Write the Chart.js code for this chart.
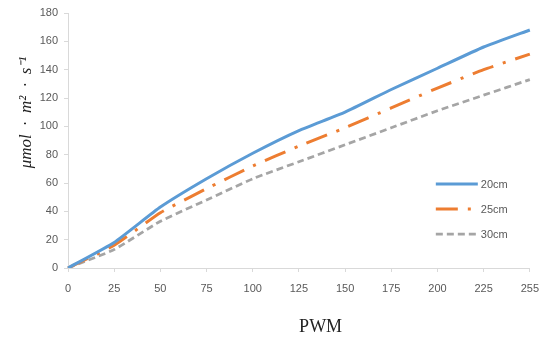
<!DOCTYPE html>
<html>
<head>
<meta charset="utf-8">
<script src="https://cdn.jsdelivr.net/npm/chart.js@4/dist/chart.umd.min.js"></script>
<style>
  html, body { margin: 0; padding: 0; background: #ffffff; }
  #wrap { width: 549px; height: 341px; position: relative; }
</style>
</head>
<body>
<div id="wrap"><canvas id="c" width="549" height="341"></canvas></div>
<script>
// PWM duty levels (category labels on the x axis)
const pwmLabels = ['0', '25', '50', '75', '100', '125', '150', '175', '200', '225', '255'];

// Photon flux density at each distance, μmol·m²·s⁻¹
const flux20cm = [0, 18, 43, 63, 81, 97, 110, 126, 141, 156, 168];
const flux25cm = [0, 16, 39, 56, 72, 86, 99, 113, 127, 140, 151];
const flux30cm = [0, 13, 33, 48, 63, 75, 87, 99, 111, 122, 133];

const seriesNames = ['20cm', '25cm', '30cm'];
const yTicks = { min: 0, max: 180, step: 20 };

const tickColor = '#595959';
const axisColor = '#d9d9d9';
const tickFont = { family: 'Liberation Sans', size: 11 };

// Legend drawn inside the plot area, lower right
const insideLegend = {
  id: 'insideLegend',
  afterDraw(chart) {
    const ctx = chart.ctx;
    const area = chart.chartArea;
    const x0 = area.right - 94;
    const y0 = area.bottom - 84;
    const rowGap = 25;
    chart.data.datasets.forEach((ds, i) => {
      const y = y0 + i * rowGap;
      ctx.save();
      ctx.strokeStyle = ds.borderColor;
      ctx.lineWidth = ds.borderWidth;
      ctx.setLineDash(ds.borderDash || []);
      ctx.lineCap = 'butt';
      ctx.beginPath();
      ctx.moveTo(x0, y);
      ctx.lineTo(x0 + 42, y);
      ctx.stroke();
      ctx.setLineDash([]);
      ctx.fillStyle = tickColor;
      ctx.font = '11px "Liberation Sans"';
      ctx.textAlign = 'left';
      ctx.textBaseline = 'middle';
      ctx.fillText(ds.label, x0 + 45, y + 1);
      ctx.restore();
    });
  }
};

// Axis titles
const axisTitles = {
  id: 'axisTitles',
  afterDraw(chart) {
    const ctx = chart.ctx;
    const area = chart.chartArea;
    ctx.save();
    ctx.fillStyle = '#222222';
    ctx.textAlign = 'center';
    ctx.textBaseline = 'middle';
    ctx.font = '18px "Liberation Serif"';
    ctx.fillText('PWM', area.left + area.width * 0.547, 327);
    ctx.translate(27, area.top + area.height * 0.39);
    ctx.rotate(-Math.PI / 2);
    ctx.font = 'italic 17px "Liberation Serif"';
    ctx.fillText('μmol  ·  m²  ·  s⁻¹', 0, 0);
    ctx.restore();
  }
};

const lineStyle = { pointRadius: 0, tension: 0.15, fill: false };

new Chart(document.getElementById('c'), {
  type: 'line',
  data: {
    labels: pwmLabels,
    datasets: [
      { label: seriesNames[0], data: flux20cm, borderColor: '#5b9bd5', borderWidth: 3, ...lineStyle },
      { label: seriesNames[1], data: flux25cm, borderColor: '#ed7d31', borderWidth: 3, borderDash: [22, 10, 3, 10], ...lineStyle },
      { label: seriesNames[2], data: flux30cm, borderColor: '#a5a5a5', borderWidth: 2.75, borderDash: [7, 4], ...lineStyle }
    ]
  },
  options: {
    responsive: false,
    animation: false,
    layout: { padding: { top: 13, right: 17, left: 0, bottom: 0 } },
    plugins: { legend: { display: false }, tooltip: { enabled: false } },
    scales: {
      x: {
        type: 'category',
        offset: false,
        grid: { drawOnChartArea: false, color: axisColor, tickLength: 4 },
        border: { color: axisColor },
        ticks: { color: tickColor, font: tickFont, padding: 10, maxRotation: 0, autoSkip: false },
        afterFit(scale) { scale.height = 73; }
      },
      y: {
        min: yTicks.min,
        max: yTicks.max,
        grid: { drawOnChartArea: false, color: axisColor, tickLength: 4 },
        border: { color: axisColor },
        ticks: { stepSize: yTicks.step, color: tickColor, font: tickFont, padding: 6 },
        afterFit(scale) { scale.width = 68; }
      }
    }
  },
  plugins: [insideLegend, axisTitles]
});
</script>
</body>
</html>
